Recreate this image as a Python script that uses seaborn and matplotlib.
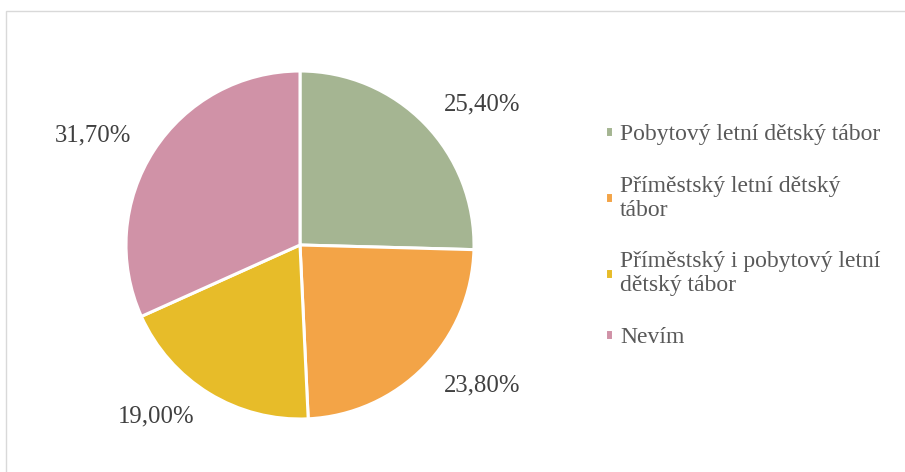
import matplotlib
matplotlib.use("Agg")
import matplotlib.pyplot as plt
import matplotlib.patches as mpatches
import seaborn as sns

# data
categories = [
    "Pobytový letní dětský tábor",
    "Příměstský letní dětský\ntábor",
    "Příměstský i pobytový letní\ndětský tábor",
    "Nevím",
]
shares = [25.40, 23.80, 19.00, 31.70]
pct_labels = ["25,40%", "23,80%", "19,00%", "31,70%"]
slice_colors = ["#A5B592", "#F3A447", "#E7BC29", "#D092A7"]

sns.set_theme(style="white")
plt.rcParams["font.family"] = ["Liberation Serif", "DejaVu Serif"]

palette = sns.color_palette(slice_colors)

fig = plt.figure(figsize=(9.05, 4.72), dpi=100)
ax = fig.add_axes([300 / 905 - 174 / 905, 1 - 245 / 472 - 174 / 472,
                   348 / 905, 348 / 472])

wedges, texts = ax.pie(
    shares,
    labels=pct_labels,
    colors=palette,
    startangle=90,
    counterclock=False,
    labeldistance=1.155,
    wedgeprops=dict(edgecolor="white", linewidth=2.2),
    textprops=dict(fontsize=17.8, color="#404040"),
)
ax.set_xlim(-1, 1)
ax.set_ylim(-1, 1)
ax.set_aspect("equal")

leg = fig.legend(
    wedges, categories,
    loc="center left",
    bbox_to_anchor=(605 / 905, 1 - 236 / 472),
    frameon=False,
    fontsize=17,
    handlelength=0.32,
    handleheight=0.32,
    handletextpad=0.32,
    labelspacing=1.3,
    borderpad=0,
    borderaxespad=0,
    labelcolor="#595959",
)
for t in leg.get_texts():
    t.set_linespacing(1.19)

# light grey chart-area border
border = mpatches.Rectangle((6 / 905, -0.05), 1.0, 1 - 11 / 472 + 0.05,
                            transform=fig.transFigure, fill=False,
                            edgecolor="#D9D9D9", linewidth=1.0)
fig.patches.append(border)

fig.savefig("out.png", dpi=100)
plt.close(fig)
